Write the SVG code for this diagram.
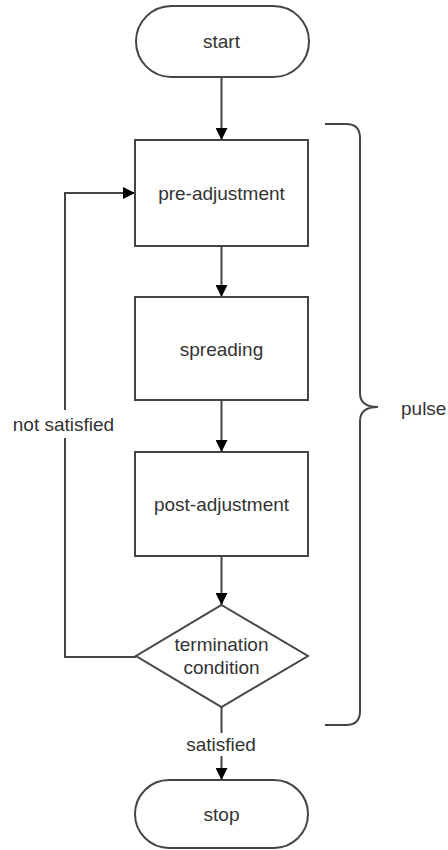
<svg xmlns="http://www.w3.org/2000/svg" width="448" height="850" viewBox="0 0 448 850">
<defs>
<marker id="arr" markerWidth="12" markerHeight="12" refX="12" refY="6" orient="auto" markerUnits="userSpaceOnUse">
<path d="M0,0 L12,6 L0,12 Z" fill="#000"/>
</marker>
</defs>
<style>
.shape{fill:#fff;stroke:#444;stroke-width:2}
.conn{fill:none;stroke:#444;stroke-width:2}
.lbl{font-family:"Liberation Sans",Arial,sans-serif;font-size:19px;fill:#333;text-anchor:middle;dominant-baseline:central}
</style>
<rect width="448" height="850" fill="#fff"/>
<g id="connectors">
<path class="conn" d="M221.5,77 V140" marker-end="url(#arr)"/>
<path class="conn" d="M221.5,246 V297" marker-end="url(#arr)"/>
<path class="conn" d="M221.5,400 V452" marker-end="url(#arr)"/>
<path class="conn" d="M221.5,556 V605" marker-end="url(#arr)"/>
<path class="conn" d="M221.5,707 V733"/>
<path class="conn" d="M221.5,756 V780" marker-end="url(#arr)"/>
<path class="conn" d="M136,657 H65 V438"/>
<path class="conn" d="M65,410 V193 H135" marker-end="url(#arr)"/>
<text class="lbl" x="63.5" y="424">not satisfied</text>
<text class="lbl" x="221" y="744">satisfied</text>
</g>
<g id="start">
<rect class="shape" x="136" y="6" width="173" height="71" rx="35.5" ry="35.5"/>
<text class="lbl" x="221.5" y="41">start</text>
</g>
<g id="pre-adjustment">
<rect class="shape" x="135" y="140" width="173" height="106"/>
<text class="lbl" x="221.5" y="193">pre-adjustment</text>
</g>
<g id="spreading">
<rect class="shape" x="135" y="297" width="173" height="103"/>
<text class="lbl" x="221.5" y="349">spreading</text>
</g>
<g id="post-adjustment">
<rect class="shape" x="135" y="452" width="173" height="104"/>
<text class="lbl" x="221.5" y="504">post-adjustment</text>
</g>
<g id="termination">
<polygon class="shape" points="221.5,605 308,656 221.5,707 136,656"/>
<text class="lbl" x="221.5" y="644">termination</text>
<text class="lbl" x="221.5" y="667">condition</text>
</g>
<g id="stop">
<rect class="shape" x="135" y="780" width="173" height="68" rx="34" ry="34"/>
<text class="lbl" x="221.5" y="814">stop</text>
</g>
<g id="pulse">
<path class="conn" d="M325,124 H346 Q360,124 360,138 V393 Q360,407 378,407 Q360,407 360,421 V711 Q360,725 346,725 H325"/>
<text class="lbl" x="401" y="408" style="text-anchor:start">pulse</text>
</g>
</svg>
